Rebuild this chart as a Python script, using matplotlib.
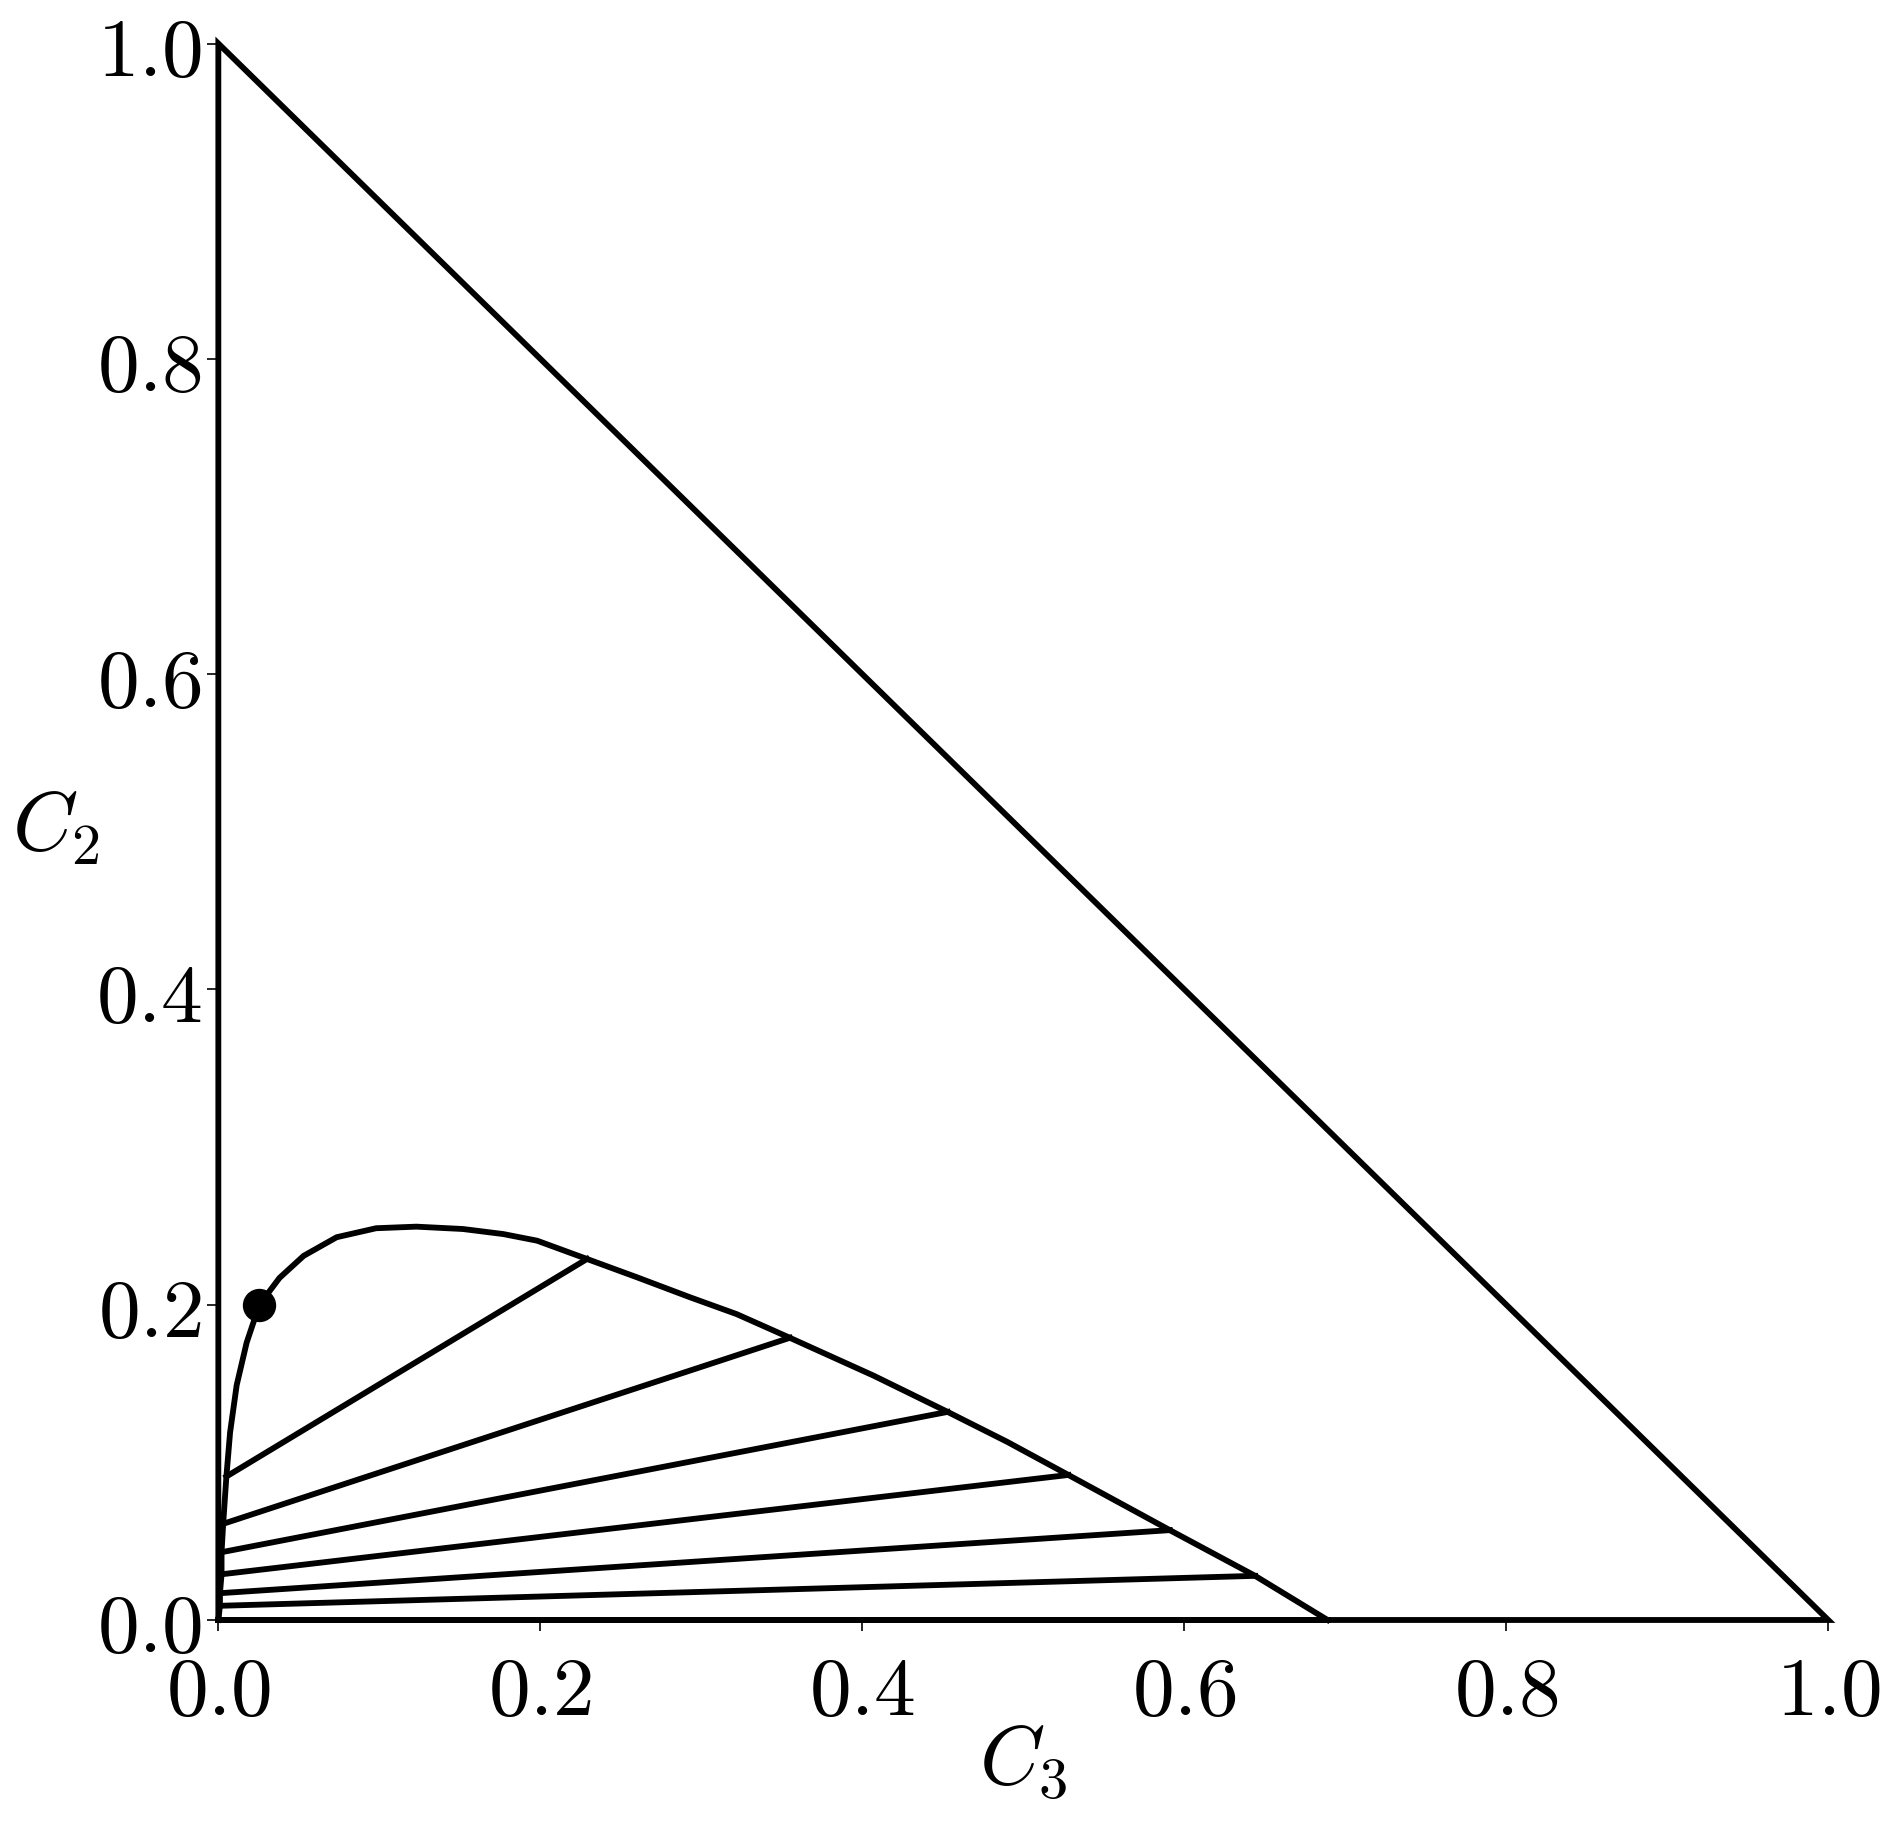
import matplotlib
matplotlib.use('Agg')
import matplotlib.pyplot as plt

plt.rcParams['mathtext.fontset'] = 'cm'
plt.rcParams['font.family'] = ['DejaVu Serif']

# triangle corners (C3, C2)
tri_c3 = [0.0, 1.0, 0.0, 0.0]
tri_c2 = [0.0, 0.0, 1.0, 0.0]

# binodal curve
bin_c3 = [0.0, 0.001, 0.001, 0.002, 0.002, 0.003, 0.005, 0.0073, 0.0114,
          0.0176, 0.0255, 0.038, 0.053, 0.0735, 0.098, 0.123, 0.152, 0.177,
          0.198, 0.229, 0.26, 0.293, 0.322, 0.355, 0.407, 0.453, 0.49,
          0.528, 0.591, 0.644, 0.689]
bin_c2 = [0.0, 0.009, 0.017, 0.029, 0.043, 0.061, 0.091, 0.119, 0.149,
          0.176, 0.2, 0.217, 0.231, 0.2428, 0.2485, 0.2495, 0.248, 0.2448,
          0.2406, 0.229, 0.2174, 0.2047, 0.194, 0.179, 0.155, 0.132, 0.113,
          0.092, 0.057, 0.028, 0.0]

# tie lines: left end (c3, c2) -> right end (c3, c2)
tie_c3_left = [0.005, 0.003, 0.002, 0.002, 0.001, 0.001, 0.0]
tie_c2_left = [0.091, 0.061, 0.043, 0.029, 0.017, 0.009, 0.0]
tie_c3_right = [0.229, 0.355, 0.453, 0.528, 0.591, 0.644, 0.689]
tie_c2_right = [0.229, 0.179, 0.132, 0.092, 0.057, 0.028, 0.0]

# critical point
crit_c3 = [0.0255]
crit_c2 = [0.2]

ticks = [0.0, 0.2, 0.4, 0.6, 0.8, 1.0]
tick_labels = [r'$%.1f$' % t for t in ticks]

fig = plt.figure(figsize=(18.92, 18.24), dpi=100)
ax = fig.add_axes([0.1154, 0.1113, 0.8509, 0.8643])

lw = 4.2
ax.plot(tri_c3, tri_c2, color='black', lw=lw, solid_joinstyle='miter',
        clip_on=False)
ax.plot(bin_c3, bin_c2, color='black', lw=lw, solid_joinstyle='round',
        clip_on=False)
for xl, yl, xr, yr in zip(tie_c3_left, tie_c2_left, tie_c3_right, tie_c2_right):
    ax.plot([xl, xr], [yl, yr], color='black', lw=lw, clip_on=False)
ax.plot(crit_c3, crit_c2, 'o', color='black', ms=23, clip_on=False)

ax.set_xlim(0, 1)
ax.set_ylim(0, 1)
for s in ax.spines.values():
    s.set_visible(False)

ax.set_xticks(ticks)
ax.set_xticklabels(tick_labels)
ax.set_yticks(ticks)
ax.set_yticklabels(tick_labels)
ax.tick_params(axis='both', direction='out', length=8, width=1.2,
               labelsize=60, color='black')
ax.tick_params(axis='x', pad=14)
ax.tick_params(axis='y', pad=4)

ax.set_xlabel(r'$C_3$', fontsize=60, va='center')
ax.xaxis.set_label_coords(0.5, -0.089)
ax.set_ylabel(r'$C_2$', fontsize=60, rotation=0, ha='center', va='center')
ax.yaxis.set_label_coords(-0.101, 0.503)

fig.savefig('out.png', dpi=100)
